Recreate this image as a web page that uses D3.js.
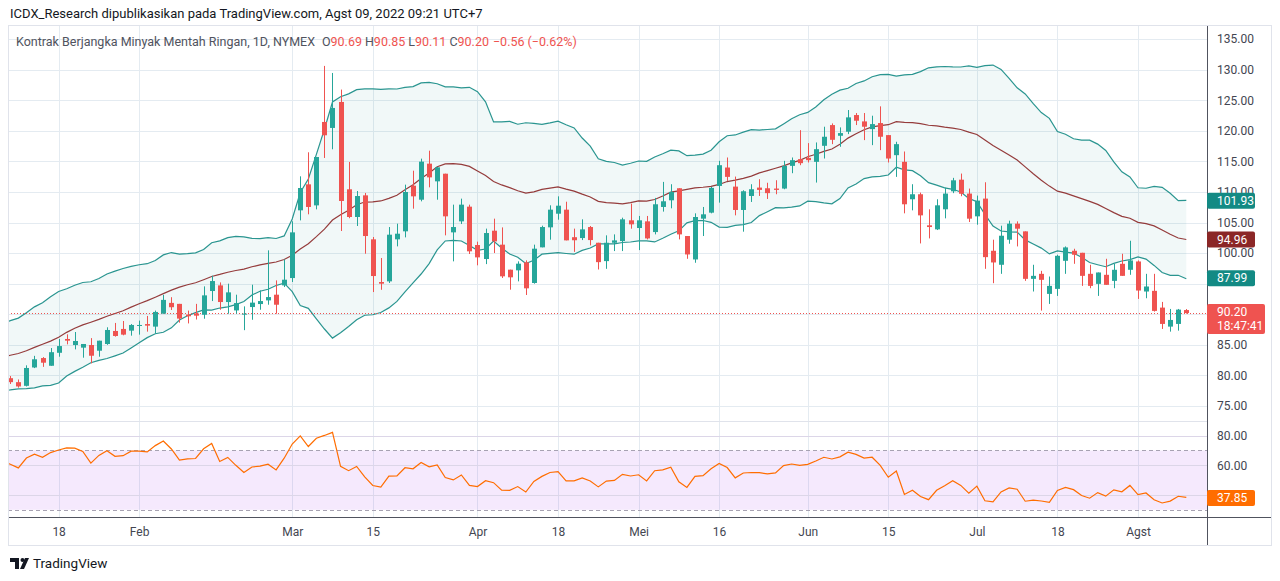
<!DOCTYPE html>
<html>
<head>
<meta charset="utf-8">
<script src="https://cdn.jsdelivr.net/npm/d3@7"></script>
<style>
body{margin:0;background:#fff;overflow:hidden;}
text{font-family:Roboto,"Noto Sans",sans-serif;}
</style>
</head>
<body>
<script>
const WIDTH = 1280;
const HEIGHT = 581;

// daily candles, 7 Jan 2022 .. 9 Aug 2022
const opens = [79.55,78.9,78.3,81.3,82.84,81.58,83.7,85.96,84.97,84.54,84.97,84.04,85.14,87.27,87.6,87.32,88.14,88.4,87.98,90.1,
91.86,91.7,89.95,90.12,89.92,93.8,94.72,92.0,90.63,90.0,91.18,91.67,92.27,93.2,94.72,95.92,106.99,111.24,107.8,121.44,
120.46,124.71,110.43,105.9,109.44,102.25,95.27,95.38,102.25,103.56,111.02,108.73,114.62,111.73,112.98,103.39,105.19,107.59,101.32,99.03,
103.66,101.38,97.29,97.18,98.49,95.11,100.94,104.21,106.44,107.1,102.6,102.46,104.26,101.69,98.69,101.69,101.97,105.36,104.1,105.19,
103.44,107.54,108.63,110.6,102.79,98.96,105.63,106.61,110.98,113.99,110.87,107.05,109.34,110.71,110.6,110.55,110.55,114.26,115.36,115.57,
114.92,117.54,120.93,119.18,119.84,122.57,121.53,120.27,121.26,119.29,116.01,114.92,108.8,109.62,104.54,103.88,107.16,110.1,112.0,109.73,
106.01,108.91,100.38,98.09,102.19,104.81,103.55,95.79,96.61,93.33,94.15,98.74,100.38,100.05,96.61,94.97,96.45,95.46,98.25,97.27,
98.63,93.72,93.83,91.09,87.98,88.42,90.69];
const highs = [79.9,79.34,81.65,83.2,83.0,84.48,85.96,86.72,87.1,85.14,86.1,85.68,87.87,88.58,88.9,88.4,88.96,89.73,90.6,93.17,
92.79,91.7,90.6,91.7,94.56,96.3,95.21,95.0,93.2,91.29,94.83,93.9,100.45,95.54,98.97,105.2,112.55,116.48,115.71,130.6,
129.45,126.73,114.9,110.15,109.83,102.63,99.2,104.26,104.81,111.19,113.47,115.44,116.74,114.1,112.98,107.92,108.9,107.92,101.87,104.0,
105.63,104.2,97.29,98.65,98.81,101.38,104.48,107.81,109.28,108.4,104.0,105.52,104.43,101.69,102.9,103.06,105.79,108.09,106.07,106.07,
109.02,111.64,111.26,110.6,102.79,106.5,107.54,110.82,115.08,115.63,112.51,110.27,111.26,112.08,111.5,111.91,115.08,115.63,120.1,117.98,
118.09,120.66,121.2,120.55,123.39,122.9,122.9,122.46,123.99,119.29,118.2,116.61,111.26,109.89,107.16,108.8,110.71,112.3,113.0,110.55,
109.4,111.58,102.19,104.48,105.3,105.19,103.55,98.09,97.1,96.17,99.73,101.09,100.71,100.05,98.09,96.83,99.07,98.25,99.89,102.02,
98.8,96.61,96.61,92.02,90.87,90.87,90.85];
const lows = [78.6,78.0,78.2,81.2,81.4,81.58,83.06,85.08,84.26,82.9,81.97,83.06,85.0,86.34,86.56,86.5,86.67,87.16,86.83,90.1,
90.7,88.63,88.5,89.14,89.27,92.16,90.74,90.09,90.09,87.4,89.1,90.74,91.56,90.09,94.45,95.27,105.35,106.34,107.15,115.55,
116.97,103.61,105.7,104.43,99.9,93.63,94.0,95.11,101.1,102.57,107.26,108.46,110.75,108.73,102.9,98.65,104.75,99.85,98.0,98.2,
100.01,95.93,94.02,95.38,93.15,95.0,100.94,102.19,105.46,102.08,100.2,102.13,101.26,97.32,97.43,100.33,100.33,103.99,100.49,102.24,
103.06,106.78,107.32,102.24,99.07,98.42,102.79,106.5,108.25,111.8,106.17,103.5,108.36,109.34,108.85,109.62,110.44,113.06,114.37,114.81,
111.53,115.46,117.81,117.38,119.45,120.93,118.47,117.65,116.83,114.81,112.46,106.5,106.99,101.58,102.4,103.77,105.68,109.8,109.3,105.08,
104.64,97.43,95.08,96.61,101.53,101.09,95.46,93.72,90.6,91.69,93.0,96.61,98.25,94.64,94.26,93.0,94.81,94.26,96.28,96.45,
92.51,92.62,90.44,87.6,87.16,87.32,90.11];
const closes = [78.9,78.2,81.22,82.64,82.08,83.8,84.8,85.68,85.63,85.14,83.22,85.68,87.43,86.45,86.67,88.25,88.25,88.14,90.38,92.35,
91.15,89.29,89.67,89.77,93.09,95.43,92.0,93.58,91.83,90.1,91.9,92.16,92.81,91.56,95.65,103.39,110.64,107.54,115.71,119.26,
123.73,108.52,105.9,109.33,102.79,96.25,95.0,103.01,103.17,109.99,109.28,114.95,112.38,114.02,106.01,104.26,107.92,100.29,99.3,103.28,
101.92,96.2,96.04,98.27,94.24,100.72,104.26,107.1,107.75,102.08,102.1,103.88,102.13,98.52,101.69,102.08,105.52,104.7,105.36,102.4,
107.98,108.47,110.0,103.06,99.78,105.9,106.34,110.66,114.37,112.46,107.05,110.11,110.44,110.33,109.8,110.33,114.26,115.19,114.7,115.19,
116.99,119.02,118.52,119.62,122.19,121.64,120.66,121.09,119.02,115.46,117.81,107.98,109.62,106.17,104.26,107.81,109.73,111.9,109.7,105.63,
108.58,99.34,98.47,102.84,104.81,103.99,95.79,96.28,95.63,94.64,99.56,100.93,99.73,96.28,94.64,96.83,94.81,97.27,96.28,98.8,
93.88,94.54,90.55,88.42,89.07,90.76,90.20];

// closes before the visible window (Nov 2021 .. 6 Jan 2022), only used to warm up the indicators
const priorCloses = [84.05,83.91,80.86,78.81,81.27,81.93,84.15,81.34,81.59,80.79,80.88,80.76,78.36,79.01,76.10,76.75,78.50,78.39,
68.15,69.95,66.18,65.57,66.50,66.26,69.49,72.05,72.36,70.94,71.67,71.29,70.73,70.87,72.38,70.86,68.23,71.12,72.76,73.79,
75.57,75.98,76.56,76.99,75.21,76.08,76.99,77.85,79.46];

// last indicator values as printed on the scale: BB upper, basis, lower; RSI
const bandTags = [101.93,94.96,87.99];
const rsiTag = 37.85;
const countdown = "18:47:41";

const tickIndex = [6,16,35,45,58,68,78,88,99,109,120,130,140];
const tickLabels = ["18","Feb","Mar","15","Apr","18","Mei","16","Jun","15","Jul","18","Agst"];
const priceTicks = [75,80,85,90,95,100,105,110,115,120,125,130,135];
const priceLabels = [75,80,85,100,105,110,115,120,125,130,135];
const rsiTicks = [40,60,80];
const rsiLabels = [60,80];
const rsiBandLevels = [30,70];

const UP = "#26a69a", DOWN = "#ef5350";
const BAND = "#138a84", BASIS = "#8b2727", RSI = "#ff6d00";
const GRID = "#e4ebf1";

function setup(){
    let svg = d3.select("body").append("svg")
        .attr("width",WIDTH).attr("height",HEIGHT)
        .style("display","block");
    svg.append("rect").attr("width",WIDTH).attr("height",HEIGHT).attr("fill","#fff");
    main(svg);
}

function indicators(){
    let all = priorCloses.concat(closes);
    let n0 = priorCloses.length;
    let bands = [];
    for(let k=19;k<all.length;k++){
        let w = all.slice(k-19,k+1);
        let m = d3.mean(w);
        let sd = Math.sqrt(d3.mean(w,v=>(v-m)*(v-m)));
        bands.push({i:k-n0, basis:m, upper:m+2*sd, lower:m-2*sd});
    }
    let rsi = [];
    let ag = 0, al = 0;
    for(let k=1;k<all.length;k++){
        let ch = all[k]-all[k-1];
        let u = Math.max(ch,0), d = Math.max(-ch,0);
        if(k<=14){
            ag += u/14; al += d/14;
            if(k<14) continue;
        } else {
            ag = (ag*13+u)/14; al = (al*13+d)/14;
        }
        rsi.push({i:k-n0, v: al===0 ? 100 : 100-100/(1+ag/al)});
    }
    return {bands:bands.filter(b=>b.i>=-1), rsi:rsi.filter(r=>r.i>=-1)};
}

function main(svg){
    const left = 8, right = 1207, top = 25, mainBottom = 421, rsiBottom = 517, axisBottom = 545;
    let x = d3.scaleLinear().domain([0,closes.length-1]).range([10.3,1186.3]);
    let y = d3.scaleLinear().domain([72.55,137.29]).range([mainBottom,top]);
    let yBand = d3.scaleLinear().domain([62.36,133.49]).range([mainBottom,top]);
    let yRsi = d3.scaleLinear().domain([25.1,89.9]).range([rsiBottom,mainBottom]);
    let {bands,rsi} = indicators();
    let last = closes.length-1;

    let defs = svg.append("defs");
    defs.append("clipPath").attr("id","clipMain").append("rect")
        .attr("x",left).attr("y",top).attr("width",right-left).attr("height",mainBottom-top);
    defs.append("clipPath").attr("id","clipRsi").append("rect")
        .attr("x",left).attr("y",mainBottom).attr("width",right-left).attr("height",rsiBottom-mainBottom);

    // grid
    let grid = svg.append("g").attr("stroke",GRID).attr("stroke-width",1);
    grid.selectAll(".vg").data(tickIndex).enter().append("line")
        .attr("x1",d=>Math.round(x(d))+0.5).attr("x2",d=>Math.round(x(d))+0.5)
        .attr("y1",top).attr("y2",rsiBottom);
    grid.selectAll(".hg").data(priceTicks).enter().append("line")
        .attr("x1",left).attr("x2",right)
        .attr("y1",d=>Math.round(y(d))+0.5).attr("y2",d=>Math.round(y(d))+0.5);

    // RSI pane
    let rsiG = svg.append("g").attr("clip-path","url(#clipRsi)");
    rsiG.append("rect").attr("x",left).attr("width",right-left)
        .attr("y",yRsi(rsiBandLevels[1])).attr("height",yRsi(rsiBandLevels[0])-yRsi(rsiBandLevels[1]))
        .attr("fill","rgba(156,39,236,0.1)");
    rsiG.selectAll(".rg").data(rsiTicks).enter().append("line")
        .attr("x1",left).attr("x2",right)
        .attr("y1",d=>Math.round(yRsi(d))+0.5).attr("y2",d=>Math.round(yRsi(d))+0.5)
        .attr("stroke","#dcd6e8").attr("stroke-width",1);
    rsiG.selectAll(".rl").data(rsiBandLevels).enter().append("line")
        .attr("x1",left).attr("x2",right)
        .attr("y1",d=>Math.round(yRsi(d))+0.5).attr("y2",d=>Math.round(yRsi(d))+0.5)
        .attr("stroke","#a7a2b2").attr("stroke-width",1).attr("stroke-dasharray","4,3");
    rsiG.append("path").datum(rsi)
        .attr("fill","none").attr("stroke",RSI).attr("stroke-width",1.2)
        .attr("d",d3.line().x(d=>x(d.i)).y(d=>yRsi(d.v)));

    // Bollinger bands (pinned to their own scale, as in the original)
    let mg = svg.append("g").attr("clip-path","url(#clipMain)");
    mg.append("path").datum(bands)
        .attr("fill","rgba(19,138,132,0.06)")
        .attr("d",d3.area().x(d=>x(d.i)).y0(d=>yBand(d.lower)).y1(d=>yBand(d.upper)));
    [["upper",BAND],["lower",BAND],["basis",BASIS]].forEach(([k,c])=>{
        mg.append("path").datum(bands)
            .attr("fill","none").attr("stroke",c).attr("stroke-width",1.2).attr("opacity",0.9)
            .attr("d",d3.line().x(d=>x(d.i)).y(d=>yBand(d[k])));
    });

    // last price line
    mg.append("line").attr("x1",left).attr("x2",right)
        .attr("y1",Math.round(y(closes[last]))+0.5).attr("y2",Math.round(y(closes[last]))+0.5)
        .attr("stroke",DOWN).attr("stroke-width",1).attr("stroke-dasharray","1,2");

    // candles
    let candles = closes.map((c,i)=>({i,o:opens[i],h:highs[i],l:lows[i],c}));
    let cg = mg.selectAll(".candle").data(candles).enter().append("g");
    cg.append("line")
        .attr("x1",d=>Math.round(x(d.i))+0.5).attr("x2",d=>Math.round(x(d.i))+0.5)
        .attr("y1",d=>y(d.h)).attr("y2",d=>y(d.l))
        .attr("stroke",d=>d.c>=d.o?UP:DOWN).attr("stroke-width",1);
    cg.append("rect")
        .attr("x",d=>Math.round(x(d.i))-2).attr("width",5)
        .attr("y",d=>y(Math.max(d.o,d.c)))
        .attr("height",d=>Math.max(1,Math.abs(y(d.o)-y(d.c))))
        .attr("fill",d=>d.c>=d.o?UP:DOWN);

    // pane separators and frame
    svg.append("line").attr("x1",left).attr("x2",right).attr("y1",mainBottom+0.5).attr("y2",mainBottom+0.5)
        .attr("stroke","#e0e3eb");
    svg.append("line").attr("x1",left).attr("x2",1271).attr("y1",rsiBottom+0.5).attr("y2",rsiBottom+0.5)
        .attr("stroke","#50535e");
    svg.append("line").attr("x1",right+0.5).attr("x2",right+0.5).attr("y1",top).attr("y2",axisBottom)
        .attr("stroke","#50535e");
    svg.append("rect").attr("x",left+0.5).attr("y",top+0.5).attr("width",1271-left).attr("height",axisBottom-top)
        .attr("fill","none").attr("stroke","#e0e3eb");

    // axes
    let pa = svg.append("g").attr("transform",`translate(${right},0)`)
        .call(d3.axisRight(y).tickValues(priceLabels).tickFormat(d3.format(".2f")).tickSize(0).tickPadding(10));
    let ra = svg.append("g").attr("transform",`translate(${right},0)`)
        .call(d3.axisRight(yRsi).tickValues(rsiLabels).tickFormat(d3.format(".2f")).tickSize(0).tickPadding(10));
    let ta = svg.append("g").attr("transform",`translate(0,${rsiBottom})`)
        .call(d3.axisBottom(x).tickValues(tickIndex).tickFormat((d,i)=>tickLabels[i]).tickSize(0).tickPadding(10));
    [pa,ra,ta].forEach(a=>{
        a.select(".domain").remove();
        a.selectAll("text").attr("fill","#434651").style("font-size","12px")
            .style("font-family","Roboto, sans-serif");
    });

    // value tags on the price scale
    function tag(val,color,yy,h,extra){
        let g = svg.append("g");
        g.append("rect").attr("x",right).attr("y",yy-h/2).attr("width",extra?58:48).attr("height",h)
            .attr("rx",2).attr("fill",color);
        g.append("text").attr("x",right+10).attr("y",extra?yy-3:yy+4)
            .attr("fill","#fff").style("font-size","12px").text(val);
        if(extra) g.append("text").attr("x",right+10).attr("y",yy+11)
            .attr("fill","#fff").style("font-size","12px").text(extra);
    }
    [BAND,BASIS,BAND].forEach((c,i)=>tag(bandTags[i].toFixed(2),c,yBand(bandTags[i]),16));
    tag(closes[last].toFixed(2),DOWN,y(closes[last])+6,30,countdown);
    tag(rsiTag.toFixed(2),RSI,yRsi(rsiTag),16);

    // header
    svg.append("text").attr("x",10).attr("y",18).attr("fill","#131722")
        .style("font-size","13px")
        .text("ICDX_Research dipublikasikan pada TradingView.com, Agst 09, 2022 09:21 UTC+7");
    let chg = closes[last]-closes[last-1];
    let pct = chg/closes[last-1]*100;
    let fmt = v=>(v<0?"\u2212":"+")+Math.abs(v).toFixed(2);
    let legend = svg.append("text").attr("x",16).attr("y",46).style("font-size","12.5px").attr("fill","#50535e");
    legend.append("tspan").text("Kontrak Berjangka Minyak Mentah Ringan, 1D, NYMEX");
    [["O",opens[last]],["H",highs[last]],["L",lows[last]],["C",closes[last]]].forEach(([k,v],i)=>{
        legend.append("tspan").attr("dx",i===0?7:3).text(k);
        legend.append("tspan").attr("fill",DOWN).text(v.toFixed(2));
    });
    legend.append("tspan").attr("dx",4).attr("fill",DOWN).text(`${fmt(chg)} (${fmt(pct)}%)`);

    // footer logo
    let logo = svg.append("g").attr("fill","#131722");
    logo.append("path").attr("d","M10 558h9v11h-4v-7h-5z");
    logo.append("circle").attr("cx",22.5).attr("cy",560).attr("r",2);
    logo.append("path").attr("d","M25 558h4l-5 11h-4z");
    svg.append("text").attr("x",33).attr("y",568).attr("fill","#131722")
        .style("font-size","13.5px").text("TradingView");
}

window.addEventListener("load",setup);
</script>
</body>
</html>
